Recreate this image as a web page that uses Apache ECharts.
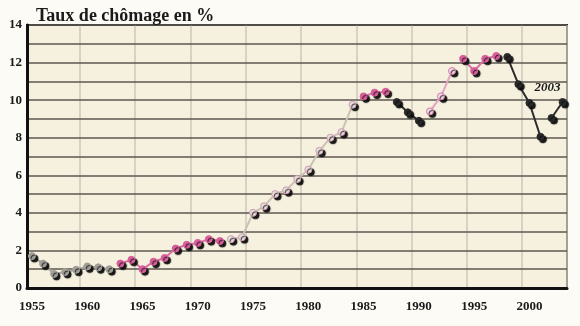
<!DOCTYPE html>
<html>
<head>
<meta charset="utf-8">
<script src="https://cdn.jsdelivr.net/npm/echarts@6/dist/echarts.min.js"></script>
<style>
  html, body { margin: 0; padding: 0; background: #fcfbf6; }
  #chart { width: 580px; height: 326px; }
</style>
</head>
<body>
<div id="chart"></div>
<script>
// Unemployment rate in France, 1955-2003 (%)
const years = [
  1955, 1956, 1957, 1958, 1959, 1960, 1961, 1962, 1963, 1964,
  1965, 1966, 1967, 1968, 1969, 1970, 1971, 1972, 1973, 1974,
  1975, 1976, 1977, 1978, 1979, 1980, 1981, 1982, 1983, 1984,
  1985, 1986, 1987, 1988, 1989, 1990, 1991, 1992, 1993, 1994,
  1995, 1996, 1997, 1998, 1999, 2000, 2001, 2002, 2003
];
const rates = [
  1.7, 1.3, 0.75, 0.85, 0.97, 1.15, 1.1, 1.0, 1.3, 1.5,
  1.0, 1.4, 1.6, 2.1, 2.3, 2.4, 2.6, 2.5, 2.6, 2.7,
  4.0, 4.35, 5.0, 5.2, 5.8, 6.3, 7.3, 8.0, 8.3, 9.75,
  10.2, 10.4, 10.45, 9.9, 9.35, 8.9, 9.4, 10.2, 11.55, 12.2,
  11.55, 12.2, 12.35, 12.3, 10.85, 9.85, 8.05, 9.05, 9.9
];

// Periods drawn as separate line pieces: [first year, last year, style key]
const periods = [
  [1955, 1962, 'grey'],
  [1963, 1972, 'pink'],
  [1973, 1984, 'beige'],
  [1985, 1987, 'pink'],
  [1988, 1990, 'dark'],
  [1991, 1993, 'lightPink'],
  [1994, 1997, 'pink'],
  [1998, 2001, 'dark'],
  [2002, 2003, 'dark']
];

const yTicks = [0, 2, 4, 6, 8, 10, 12, 14];
const xTicks = [1955, 1960, 1965, 1970, 1975, 1980, 1985, 1990, 1995, 2000];
const lastLabel = '2003';

const styles = {
  grey:      { line: '#a9a79f', fill: '#a19f98', border: '#a19f98' },
  pink:      { line: '#d870a2', fill: '#d95e9b', border: '#d95e9b' },
  beige:     { line: '#cbc2b4', fill: '#e8dfda', border: '#cf9ab4' },
  lightPink: { line: '#e3a4c4', fill: '#f3dbe6', border: '#d976a8' },
  dark:      { line: '#2b2b2b', fill: '#2a2a2a', border: '#2a2a2a' }
};

const serif = '"Liberation Serif", "DejaVu Serif", serif';

const series = periods.map(([from, to, key]) => {
  const st = styles[key];
  const pts = [];
  years.forEach((y, i) => {
    if (y >= from && y <= to) pts.push([y, rates[i]]);
  });
  return {
    type: 'line',
    xAxisIndex: 0,
    data: pts,
    symbol: 'circle',
    symbolSize: 7,
    lineStyle: { color: st.line, width: 2 },
    itemStyle: {
      color: st.fill,
      borderColor: st.border,
      borderWidth: 1,
      shadowColor: 'rgba(12,12,12,0.95)',
      shadowBlur: 1,
      shadowOffsetX: 2.5,
      shadowOffsetY: 2.5
    },
    emphasis: { disabled: true },
    animation: false,
    z: 5
  };
});

// Year label beside the final point
const last = series[series.length - 1];
last.data = last.data.map((p, i, arr) => i === arr.length - 1
  ? { value: p, label: {
      show: true, position: 'top', offset: [-15, 1],
      formatter: lastLabel,
      fontFamily: serif, fontWeight: 'bold', fontStyle: 'italic',
      fontSize: 13, color: '#1a1a1a'
    } }
  : p);

const chart = echarts.init(document.getElementById('chart'), null, { renderer: 'canvas' });
chart.setOption({
  backgroundColor: '#fcfbf6',
  animation: false,
  title: {
    text: 'Taux de chômage en %',
    left: 31, top: 2,
    textStyle: { fontFamily: serif, fontWeight: 'bold', fontSize: 18, color: '#1a1a1a' }
  },
  grid: {
    left: 27, right: 13, top: 25, bottom: 38,
    show: true,
    backgroundColor: '#f6f0de',
    borderColor: '#2a2a2a',
    borderWidth: 2
  },
  xAxis: [
    {
      // data axis: labels sit on the plotted years
      type: 'value',
      min: 1954.55, max: 2003.4,
      minInterval: 5, maxInterval: 5,
      axisLine: { show: true, onZero: false, lineStyle: { color: '#111', width: 3 } },
      axisTick: { show: false },
      splitLine: { show: false },
      axisLabel: {
        margin: 12,
        fontFamily: serif, fontWeight: 'bold', fontSize: 13, color: '#1a1a1a',
        formatter: v => xTicks.includes(Math.round(v * 100) / 100) ? String(v) : ''
      },
      z: 4
    },
    {
      // vertical rules, set half a year before each labelled year
      type: 'value',
      min: 1955.21, max: 2004.06,
      minInterval: 5, maxInterval: 5,
      position: 'bottom',
      axisLine: { show: false },
      axisTick: { show: false },
      axisLabel: { show: false },
      splitLine: { show: true, lineStyle: { color: '#cdc8bb', width: 1.5 } }
    }
  ],
  yAxis: {
    type: 'value',
    min: 0, max: 14, interval: 1,
    axisLine: { show: true, lineStyle: { color: '#111', width: 3 } },
    axisTick: { show: false },
    splitLine: { show: true, lineStyle: { color: '#5c5750', width: 1.5 } },
    axisLabel: {
      margin: 5,
      fontFamily: serif, fontWeight: 'bold', fontSize: 13, color: '#1a1a1a',
      formatter: v => yTicks.includes(v) ? String(v) : ''
    },
    z: 4
  },
  series: series
});
</script>
</body>
</html>
